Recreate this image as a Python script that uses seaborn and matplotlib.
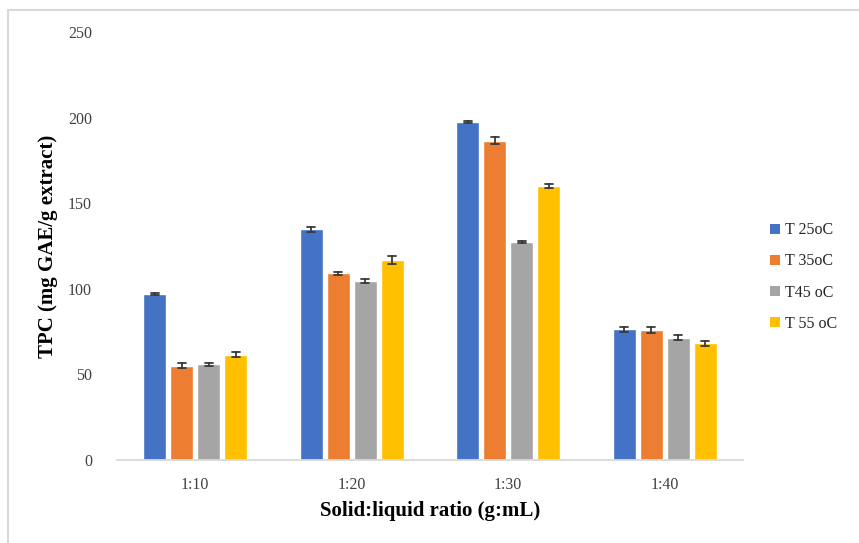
import numpy as np
import pandas as pd
import matplotlib
matplotlib.use("Agg")
import matplotlib.pyplot as plt
import matplotlib.patches as mpatches
import seaborn as sns

ratios = ["1:10", "1:20", "1:30", "1:40"]
series = ["T 25oC", "T 35oC", "T45 oC", "T 55 oC"]
t25 = [97.2, 134.8, 197.4, 76.3]
t35 = [55.0, 109.0, 186.5, 75.8]
t45 = [55.8, 104.4, 127.2, 71.4]
t55 = [61.5, 116.8, 160.0, 68.1]
e25 = [0.6, 1.4, 0.6, 1.3]
e35 = [1.4, 1.0, 2.2, 1.7]
e45 = [0.9, 1.3, 0.7, 1.4]
e55 = [1.5, 2.2, 1.2, 1.3]
colors = ["#4472C4", "#ED7D31", "#A5A5A5", "#FFC000"]
yticks = [0, 50, 100, 150, 200, 250]

means = [t25, t35, t45, t55]
errs = [e25, e35, e45, e55]
rows = []
for s, m, e in zip(series, means, errs):
    for r, mv, ev in zip(ratios, m, e):
        rows.append({"ratio": r, "series": s, "value": mv - ev})
        rows.append({"ratio": r, "series": s, "value": mv + ev})
df = pd.DataFrame(rows)

sns.set_theme(style="white")
plt.rcParams["font.family"] = ["Liberation Serif", "DejaVu Serif"]

fig = plt.figure(figsize=(8.59, 5.43), dpi=100)
ax = fig.add_axes([117/859, 1-460/543, 626/859, 428/543])

sns.barplot(data=df, x="ratio", y="value", hue="series", order=ratios,
            hue_order=series, palette=colors, width=0.69, gap=0.15,
            errorbar=lambda v: (v.min(), v.max()), capsize=0.2,
            err_kws={"color": "#3A3A3A", "linewidth": 1.3},
            saturation=1, ax=ax, legend=False)

ax.set_xlim(-0.5, 3.5)
ax.set_ylim(0, 250)
ax.set_yticks(yticks)
ax.set_yticklabels([str(v) for v in yticks])
ax.tick_params(axis="both", length=0, labelsize=11.5, colors="#404040")
ax.tick_params(axis="y", pad=18)
ax.tick_params(axis="x", pad=12)
for sp in ["top", "right", "left"]:
    ax.spines[sp].set_visible(False)
ax.spines["bottom"].set_color("#D9D9D9")
ax.spines["bottom"].set_linewidth(1.3)
ax.grid(False)

ax.set_xlabel("Solid:liquid ratio (g:mL)", fontsize=15, fontweight="bold",
              color="#000000", labelpad=6)
ax.set_ylabel("TPC (mg GAE/g extract)", fontsize=15, fontweight="bold",
              color="#000000", labelpad=7)

handles = [mpatches.Patch(facecolor=c, edgecolor="none") for c in colors]
fig.legend(handles, series, loc="center left",
           bbox_to_anchor=(764/859, 1-277/543), frameon=False,
           fontsize=11.5, handlelength=0.6, handleheight=0.6,
           handletextpad=0.3, labelspacing=0.95, borderaxespad=0)

border = mpatches.Rectangle((8/859, -0.02), 1.0, 1-10/543+0.02,
                            transform=fig.transFigure, fill=False,
                            edgecolor="#D9D9D9", linewidth=1.5)
fig.patches.append(border)

fig.savefig("out.png", dpi=100, facecolor="white")
